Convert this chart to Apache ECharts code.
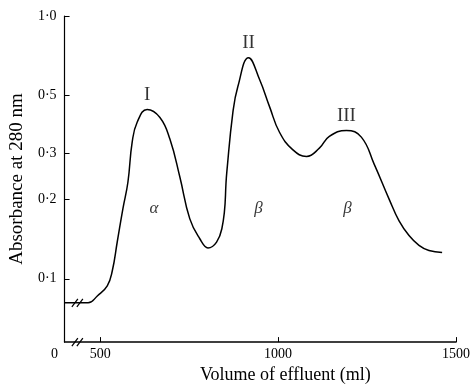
<!DOCTYPE html>
<html>
<head>
<meta charset="utf-8">
<script src="https://cdn.jsdelivr.net/npm/echarts@6/dist/echarts.min.js"></script>
<style>
  html, body { margin: 0; padding: 0; background: #fff; }
  #chart { width: 473px; height: 389px; }
</style>
</head>
<body>
<div id="chart"></div>
<script>
// elution profile (ml, absorbance at 280 nm)
const volume = [400, 466, 492, 520, 534, 548, 564, 578, 590, 604, 632, 668, 696, 724, 752, 780, 803, 842,
  856, 873, 887, 917, 948, 976, 1004, 1041, 1080, 1116, 1144, 1192, 1234, 1270, 1312, 1340, 1368,
  1396, 1424, 1461];
const absorbance = [0.081, 0.081, 0.086, 0.094, 0.107, 0.138, 0.185, 0.233, 0.331, 0.394, 0.441, 0.411, 0.34,
  0.244, 0.169, 0.142, 0.131, 0.155, 0.255, 0.43, 0.539, 0.694, 0.573, 0.452, 0.361, 0.31, 0.292,
  0.314, 0.348, 0.367, 0.346, 0.273, 0.201, 0.166, 0.146, 0.134, 0.128, 0.126];

const yTicks = [0.1, 0.2, 0.3, 0.5, 1.0];
const xTicks = [500, 1000, 1500];
const xOrigin = 400; // broken axis: drawn as "0"

const peakNames = ["I", "II", "III"];
const peakVolumes = [632, 917, 1192];
const bandNames = ["α", "β", "β"];
const bandVolumes = [651, 945, 1195];
const bandLevel = 0.185;
const breakVolume = 436;

const FONT = "Liberation Serif";
const INK = "#000";
const Y_MIN = 0.0574;

const chart = echarts.init(document.getElementById("chart"), null, { renderer: "canvas" });

const fmtY = (v) => v.toFixed(1).replace(".", "·");

chart.setOption({
  backgroundColor: "#fff",
  animation: false,
  grid: { left: 64, right: 16, top: 16, bottom: 45 },
  xAxis: {
    type: "value",
    min: xOrigin,
    max: 1500,
    name: "Volume of effluent (ml)",
    nameLocation: "middle",
    nameGap: 19,
    nameTextStyle: { fontFamily: FONT, fontSize: 18, color: INK, padding: [0, 0, 0, 50] },
    axisLine: { lineStyle: { color: INK, width: 1.5 } },
    axisTick: { inside: true, length: 5, customValues: xTicks, lineStyle: { color: INK } },
    axisLabel: {
      customValues: [xOrigin].concat(xTicks),
      fontFamily: FONT,
      fontSize: 14,
      color: INK,
      margin: 5,
      formatter: (v) => (v === xOrigin ? "{z|0}" : String(v)),
      rich: { z: { fontFamily: FONT, fontSize: 14, color: INK, padding: [0, 20, 0, 0] } },
    },
    splitLine: { show: false },
  },
  yAxis: {
    type: "log",
    logBase: 10,
    min: Y_MIN,
    max: 1.0,
    name: "Absorbance at 280 nm",
    nameLocation: "middle",
    nameGap: 36,
    nameTextStyle: { fontFamily: FONT, fontSize: 19, color: INK },
    axisLine: { show: true, lineStyle: { color: INK, width: 1.2 } },
    axisTick: { show: true, inside: true, length: 5, customValues: yTicks, lineStyle: { color: INK } },
    axisLabel: {
      customValues: yTicks,
      formatter: fmtY,
      fontFamily: FONT,
      fontSize: 14,
      color: INK,
      margin: 8,
    },
    splitLine: { show: false },
  },
  series: [
    {
      type: "line",
      data: volume.map((v, i) => [v, absorbance[i]]),
      showSymbol: false,
      smooth: 0.45,
      lineStyle: { color: INK, width: 1.5 },
    },
    {
      type: "scatter",
      symbolSize: 0,
      data: peakVolumes.map((v, i) => ({
        name: peakNames[i],
        value: [v, absorbance[volume.indexOf(v)]],
      })),
      label: {
        show: true,
        position: "top",
        distance: 5,
        formatter: (p) => p.name,
        fontFamily: FONT,
        fontSize: 19,
        color: INK,
      },
    },
    {
      type: "scatter",
      symbolSize: 0,
      data: bandVolumes.map((v, i) => ({ name: bandNames[i], value: [v, bandLevel] })),
      label: {
        show: true,
        position: "inside",
        formatter: (p) => p.name,
        fontFamily: FONT,
        fontStyle: "italic",
        fontSize: 17,
        color: INK,
      },
    },
  ],
});

// axis-break marks on the baseline and on the x axis
function breakMark(pt) {
  return [-2.5, 2.5].map((dx) => ({
    type: "line",
    shape: { x1: pt[0] + dx - 3, y1: pt[1] + 4, x2: pt[0] + dx + 3, y2: pt[1] - 4 },
    style: { stroke: INK, lineWidth: 1.2 },
  }));
}
const onCurve = chart.convertToPixel({ seriesIndex: 0 }, [breakVolume, absorbance[0]]);
const onAxis = chart.convertToPixel({ seriesIndex: 0 }, [breakVolume, Y_MIN]);
chart.setOption({ graphic: breakMark(onCurve).concat(breakMark(onAxis)) });
</script>
</body>
</html>
